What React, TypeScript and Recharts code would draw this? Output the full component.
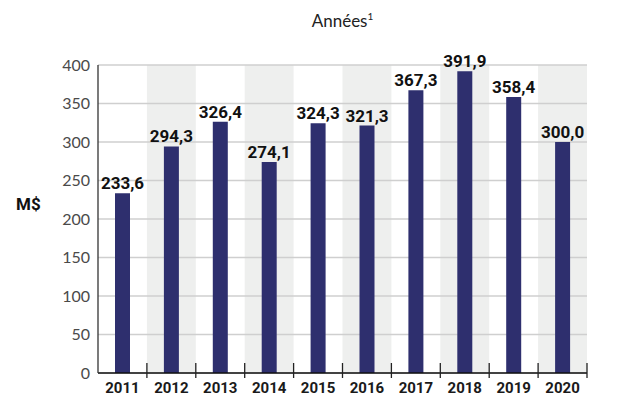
import { BarChart, Bar, XAxis, YAxis, CartesianGrid, ReferenceArea, LabelList } from "recharts"

const years = ["2011", "2012", "2013", "2014", "2015", "2016", "2017", "2018", "2019", "2020"]
const amounts = [233.6, 294.3, 326.4, 274.1, 324.3, 321.3, 367.3, 391.9, 358.4, 300.0]
const yTicks = [0, 50, 100, 150, 200, 250, 300, 350, 400]

const data = years.map((year, i) => ({ year, value: amounts[i] }))
const shadedYears = years.filter((_, i) => i % 2 === 1)

const fmt = (v: number) => v.toFixed(1).replace(".", ",")

const YearTick = (props: any) => {
  const { x, y, payload } = props
  const half = payload?.offset ?? 24.45
  return (
    <g>
      <line x1={x + half} x2={x + half} y1={y - 10} y2={y + 5} stroke="#222" strokeWidth={1.3} />
      <text
        x={x}
        y={y + 20}
        textAnchor="middle"
        fill="#1a1a1a"
        fontSize={15}
        fontWeight={700}
        fontFamily="Roboto, sans-serif"
      >
        {payload.value}
      </text>
    </g>
  )
}

const App = () => {
  return (
    <div style={{ position: "absolute", left: 0, top: 0, width: 634, height: 400, background: "#fff" }}>
      <div
        style={{
          position: "absolute",
          left: 0,
          width: 685,
          top: 10,
          textAlign: "center",
          fontFamily: "Lato, sans-serif",
          fontSize: 17,
          color: "#222",
        }}
      >
        Années<sup style={{ fontSize: 10 }}>1</sup>
      </div>
      <div
        style={{
          position: "absolute",
          left: 16,
          top: 194,
          fontFamily: "Roboto, sans-serif",
          fontWeight: 700,
          fontSize: 17,
          color: "#111",
        }}
      >
        M$
      </div>
      <BarChart
        width={634}
        height={400}
        data={data}
        margin={{ top: 65, right: 47, left: 0, bottom: 0 }}
        barSize={15}
      >
        {shadedYears.map((y) => (
          <ReferenceArea key={y} x1={y} x2={y} fill="#eeefee" fillOpacity={1} stroke="none" zIndex={-150} />
        ))}
        <CartesianGrid vertical={false} stroke="#cfcfcf" strokeWidth={1.3} />
        <XAxis
          dataKey="year"
          height={27}
          tickLine={false}
          tickSize={0}
          tickMargin={0}
          axisLine={{ stroke: "#111", strokeWidth: 1.3 }}
          tick={<YearTick />}
          interval={0}
        />
        <YAxis
          width={98}
          domain={[0, 400]}
          ticks={yTicks}
          tickLine={false}
          tickSize={0}
          tickMargin={8}
          axisLine={{ stroke: "#333", strokeWidth: 1.3 }}
          tick={{ fill: "#4a4a4a", fontSize: 16, fontFamily: "Lato, sans-serif" }}
        />
        <Bar dataKey="value" fill="#2e2f6e" isAnimationActive={false}>
          <LabelList
            dataKey="value"
            position="top"
            offset={4}
            formatter={(v: any) => fmt(Number(v))}
            fill="#111"
            fontSize={17}
            fontWeight={700}
            fontFamily="Roboto, sans-serif"
          />
        </Bar>
      </BarChart>
    </div>
  )
}

export default App
